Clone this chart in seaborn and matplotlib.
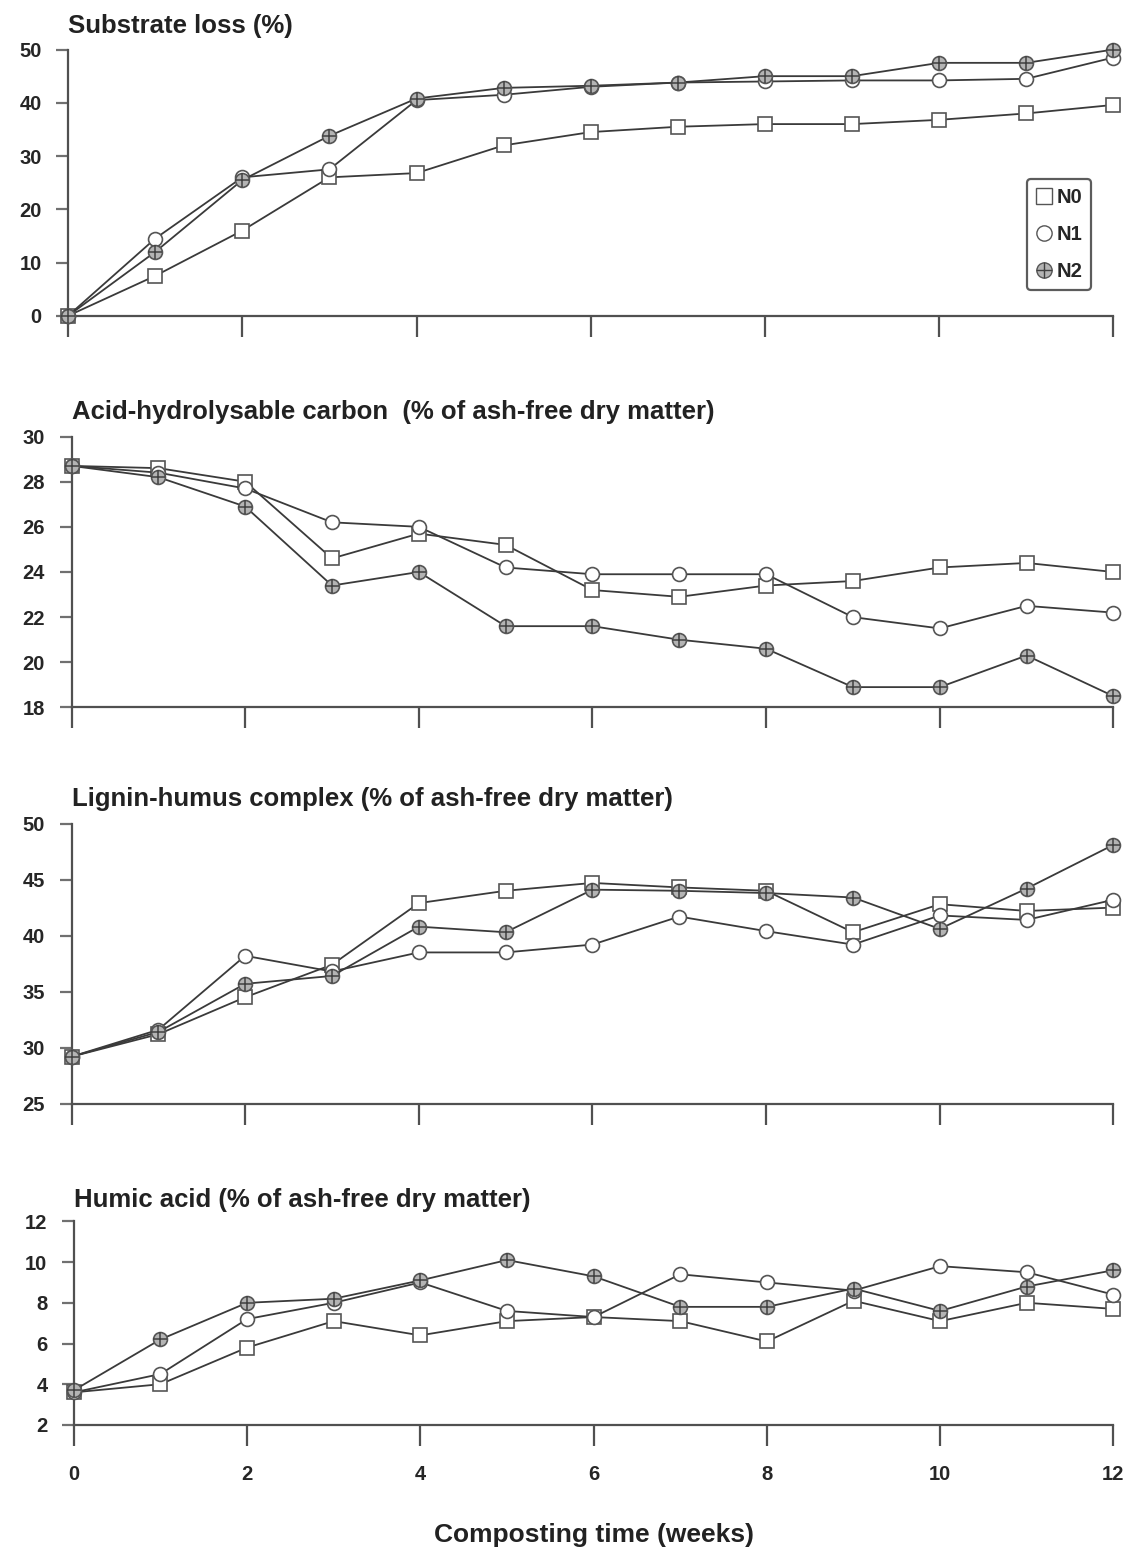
import pandas as pd
import matplotlib.pyplot as plt
import seaborn as sns
from matplotlib.legend_handler import HandlerTuple
from matplotlib.lines import Line2D

# -------------------------------
# Data
# -------------------------------
weeks = list(range(13))
treatments = ['N0', 'N1', 'N2']

loss_n0 = [0, 7.5, 16, 26, 26.8, 32, 34.5, 35.5, 36, 36, 36.8, 38, 39.6]
loss_n1 = [0, 14.5, 26, 27.5, 40.5, 41.5, 43, 43.8, 44, 44.2, 44.2, 44.5, 48.5]
loss_n2 = [0, 12, 25.5, 33.8, 40.8, 42.8, 43.2, 43.8, 45, 45, 47.5, 47.5, 50]

ahc_n0 = [28.7, 28.6, 28.0, 24.6, 25.7, 25.2, 23.2, 22.9, 23.4, 23.6, 24.2, 24.4, 24.0]
ahc_n1 = [28.7, 28.4, 27.7, 26.2, 26.0, 24.2, 23.9, 23.9, 23.9, 22.0, 21.5, 22.5, 22.2]
ahc_n2 = [28.7, 28.2, 26.9, 23.4, 24.0, 21.6, 21.6, 21.0, 20.6, 18.9, 18.9, 20.3, 18.5]

lhc_n0 = [29.2, 31.2, 34.5, 37.4, 42.9, 44.0, 44.7, 44.3, 44.0, 40.3, 42.8, 42.2, 42.5]
lhc_n1 = [29.2, 31.6, 38.2, 36.8, 38.5, 38.5, 39.2, 41.7, 40.4, 39.2, 41.8, 41.4, 43.2]
lhc_n2 = [29.2, 31.4, 35.7, 36.4, 40.8, 40.3, 44.1, 44.0, 43.8, 43.4, 40.6, 44.2, 48.1]

ha_n0 = [3.6, 4.0, 5.8, 7.1, 6.4, 7.1, 7.3, 7.1, 6.1, 8.1, 7.1, 8.0, 7.7]
ha_n1 = [3.6, 4.5, 7.2, 8.0, 9.0, 7.6, 7.3, 9.4, 9.0, 8.6, 9.8, 9.5, 8.4]
ha_n2 = [3.7, 6.2, 8.0, 8.2, 9.1, 10.1, 9.3, 7.8, 7.8, 8.7, 7.6, 8.8, 9.6]

titles = ['Substrate loss (%)',
          'Acid-hydrolysable carbon  (% of ash-free dry matter)',
          'Lignin-humus complex (% of ash-free dry matter)',
          'Humic acid (% of ash-free dry matter)']
y_ticks = [[0, 10, 20, 30, 40, 50],
           [18, 20, 22, 24, 26, 28, 30],
           [25, 30, 35, 40, 45, 50],
           [2, 4, 6, 8, 10, 12]]
x_ticks = [0, 2, 4, 6, 8, 10, 12]
series = [[loss_n0, loss_n1, loss_n2],
          [ahc_n0, ahc_n1, ahc_n2],
          [lhc_n0, lhc_n1, lhc_n2],
          [ha_n0, ha_n1, ha_n2]]

# -------------------------------
# Style
# -------------------------------
sns.set_style('ticks')
font = ['Liberation Sans Narrow', 'Liberation Sans', 'DejaVu Sans']
plt.rcParams['font.family'] = font

line_col = '#3a3a3a'
edge_col = '#555555'
styles = {'N0': dict(marker='s', markerfacecolor='white'),
          'N1': dict(marker='o', markerfacecolor='white'),
          'N2': dict(marker='o', markerfacecolor='#b4b4b4')}

# axes boxes in figure fractions [left, bottom, width, height]
boxes = [[0.060, 0.796, 0.921, 0.172],
         [0.063, 0.543, 0.918, 0.175],
         [0.063, 0.287, 0.918, 0.181],
         [0.065, 0.0795, 0.916, 0.1315]]

fig = plt.figure(figsize=(11.35, 15.48), dpi=100)

for i in range(4):
    ax = fig.add_axes(boxes[i])
    df = pd.DataFrame({'week': weeks * 3,
                       'value': series[i][0] + series[i][1] + series[i][2],
                       'treat': ['N0'] * 13 + ['N1'] * 13 + ['N2'] * 13})
    for t in treatments:
        sub = df[df['treat'] == t]
        sns.lineplot(data=sub, x='week', y='value', ax=ax, color=line_col,
                     linewidth=1.3, markersize=10, markeredgecolor=edge_col,
                     markeredgewidth=1.2, clip_on=False, zorder=3,
                     **styles[t])
        if t == 'N2':
            ax.scatter(sub['week'], sub['value'], marker='+', s=110,
                       color='#404040', linewidths=1.1, zorder=4, clip_on=False)

    ax.set_xlim(0, 12)
    ax.set_ylim(y_ticks[i][0], y_ticks[i][-1])
    ax.set_yticks(y_ticks[i])
    ax.set_xticks(x_ticks)
    ax.set_xlabel('')
    ax.set_ylabel('')
    sns.despine(ax=ax)
    for s in ['left', 'bottom']:
        ax.spines[s].set_linewidth(1.6)
        ax.spines[s].set_color('#505050')
    ax.tick_params(axis='y', length=9, width=1.6, color='#707070', pad=10,
                   labelsize=14.5)
    ax.tick_params(axis='x', length=15, width=1.6, color='#505050', pad=14,
                   labelsize=14.5)
    for lab in ax.get_yticklabels() + ax.get_xticklabels():
        lab.set_fontweight('bold')
    if i < 3:
        ax.set_xticklabels([])
    ax.text(0, 1.045, titles[i], transform=ax.transAxes, fontsize=18.5,
            fontweight='bold', ha='left', va='bottom', color='#222222')

    if i == 0:
        h0 = Line2D([], [], linestyle='none', marker='s', markersize=11,
                    markerfacecolor='white', markeredgecolor=edge_col)
        h1 = Line2D([], [], linestyle='none', marker='o', markersize=11,
                    markerfacecolor='white', markeredgecolor=edge_col)
        h2a = Line2D([], [], linestyle='none', marker='o', markersize=11,
                     markerfacecolor='#b4b4b4', markeredgecolor=edge_col)
        h2b = Line2D([], [], linestyle='none', marker='+', markersize=11,
                     color='#404040')
        leg = ax.legend([h0, h1, (h2a, h2b)], treatments,
                        handler_map={tuple: HandlerTuple(ndivide=1, pad=0)},
                        loc='lower right', bbox_to_anchor=(0.979, 0.095),
                        frameon=True, fancybox=True, handlelength=0.8,
                        handletextpad=0.2, labelspacing=0.9, borderpad=0.45,
                        borderaxespad=0,
                        prop={'weight': 'bold', 'size': 14.5})
        leg.get_frame().set_edgecolor('#333333')
        leg.get_frame().set_linewidth(1.6)

    if i == 3:
        ax.set_xlabel('Composting time (weeks)', fontsize=19,
                      fontweight='bold', labelpad=28, color='#222222')

plt.savefig('out.png', dpi=100)
plt.close()
